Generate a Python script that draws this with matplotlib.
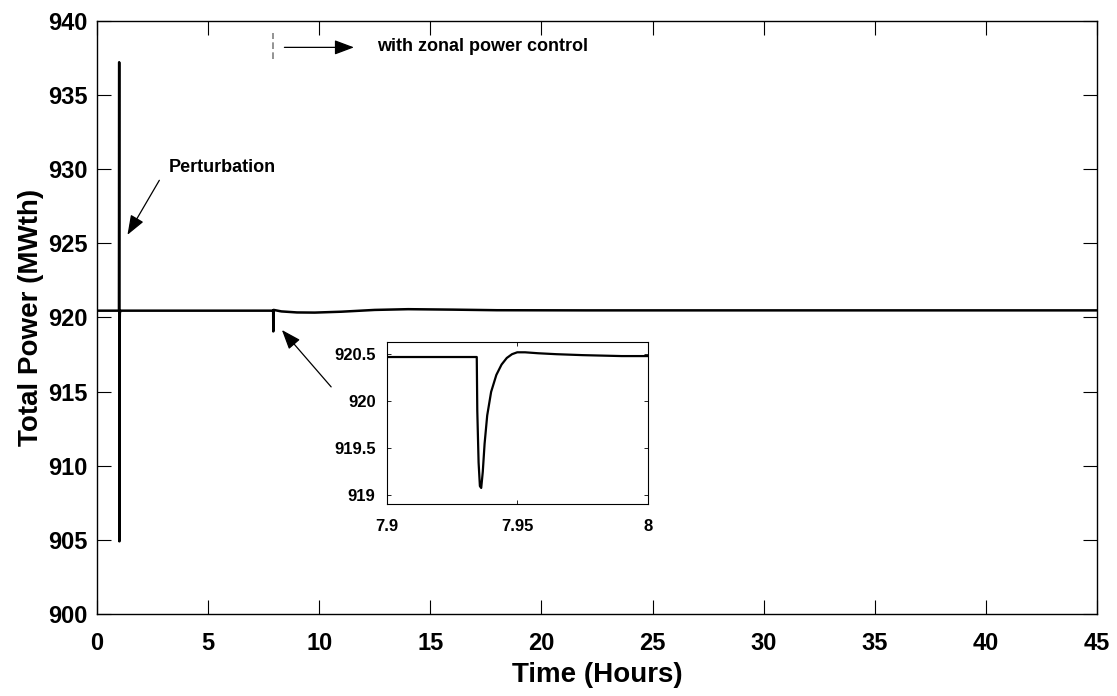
import numpy as np
import matplotlib
matplotlib.use('Agg')
import matplotlib.pyplot as plt

plt.rcParams['font.family'] = ['Liberation Sans', 'DejaVu Sans']
plt.rcParams['font.weight'] = 'bold'

# main trace (hours, MWth)
time_h = [0.0, 0.99, 1.0, 1.01, 1.02, 1.03, 1.06, 1.2, 3.0, 7.92, 7.93, 7.935,
          7.95, 8.3, 9.0, 9.8, 11.0, 12.5, 14.0, 16.0, 18.0, 22.0, 30.0, 45.0]
power = [920.45, 920.45, 937.2, 904.9, 919.4, 920.3, 920.45, 920.45, 920.45, 920.45,
         920.45, 919.05, 920.5, 920.4, 920.33, 920.32, 920.38, 920.5, 920.55, 920.52,
         920.48, 920.47, 920.47, 920.47]

# zoomed trace around the second event
t_zoom = [7.90, 7.9345, 7.9347, 7.9352, 7.9357, 7.9362, 7.9368, 7.9375, 7.9385, 7.940,
          7.942, 7.944, 7.946, 7.948, 7.950, 7.953, 7.958, 7.965, 7.975, 7.99, 8.0]
p_zoom = [920.47, 920.47, 919.9, 919.35, 919.1, 919.08, 919.25, 919.55, 919.85, 920.1,
          920.28, 920.39, 920.46, 920.5, 920.52, 920.52, 920.51, 920.5, 920.49, 920.48, 920.48]

fig = plt.figure(figsize=(11.17, 6.96), dpi=100)
ax = fig.add_axes([0.0868, 0.1178, 0.8953, 0.8525])

ax.plot(time_h, power, color='black', lw=1.8)
ax.set_xlim(0, 45)
ax.set_ylim(900, 940)
ax.set_xticks(np.arange(0, 46, 5))
ax.set_yticks(np.arange(900, 941, 5))
ax.tick_params(direction='in', length=10, width=0.8, top=True, right=True,
               labelsize=17)
ax.tick_params(axis='x', pad=13)
ax.tick_params(axis='y', pad=7)
ax.set_xlabel('Time (Hours)', fontsize=20, fontweight='bold', labelpad=5)
ax.set_ylabel('Total Power (MWth)', fontsize=20, fontweight='bold', labelpad=3)
for s in ax.spines.values():
    s.set_linewidth(1.0)

arrow = dict(arrowstyle='-|>,head_length=1.2,head_width=0.45', color='black', lw=0.9)

# annotations
ax.annotate('', xy=(1.31, 925.4), xytext=(2.87, 929.4), arrowprops=arrow)
ax.text(3.24, 930.1, 'Perturbation', fontsize=13, fontweight='bold', va='center')

ax.annotate('', xy=(8.24, 919.29), xytext=(10.62, 915.17), arrowprops=arrow)

ax.plot([7.9, 7.9], [937.4, 939.2], color='gray', lw=1.2, ls=(0, (4, 2)))
ax.annotate('', xy=(11.69, 938.2), xytext=(8.31, 938.2), arrowprops=arrow)
ax.text(12.59, 938.23, 'with zonal power control', fontsize=13, fontweight='bold',
        va='center')

# inset
axi = fig.add_axes([0.3462, 0.2759, 0.2337, 0.2328])
axi.plot(t_zoom, p_zoom, color='black', lw=1.6)
axi.set_xlim(7.9, 8.0)
axi.set_ylim(918.91, 920.63)
axi.set_xticks([7.9, 7.95, 8.0])
axi.set_xticklabels(['7.9', '7.95', '8'])
axi.set_yticks([919, 919.5, 920, 920.5])
axi.set_yticklabels(['919', '919.5', '920', '920.5'])
axi.tick_params(direction='in', length=3, width=0.6, top=True, right=True,
                labelsize=12, pad=8)
axi.tick_params(axis='x', pad=11)

fig.savefig('out.png', dpi=100)
